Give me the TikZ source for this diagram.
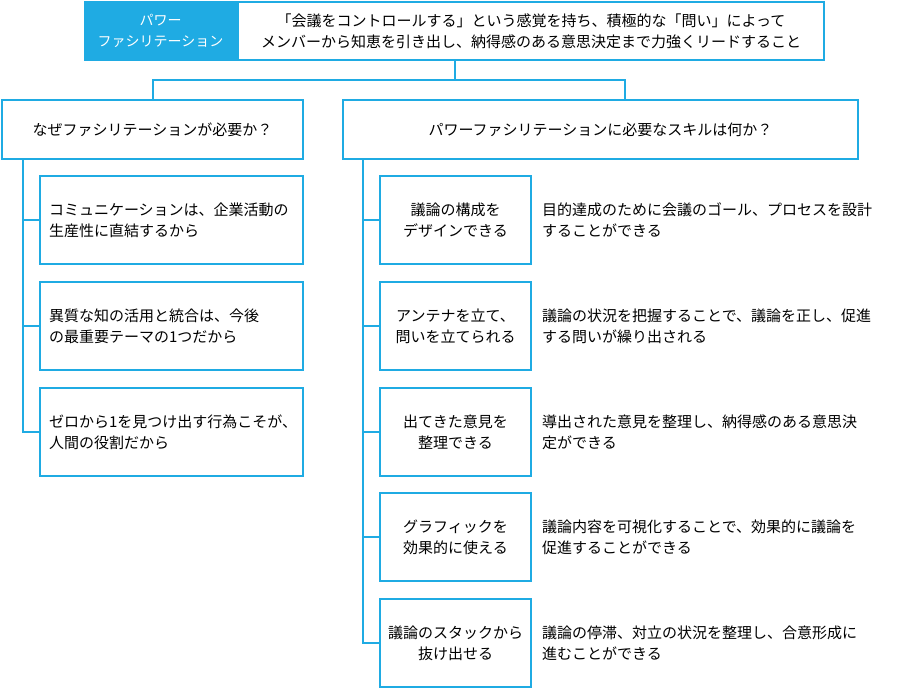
\documentclass[tikz,border=0pt]{standalone}
\usepackage{fontspec}
\setmainfont{Noto Sans CJK JP}
\usepackage{tikz}
\usetikzlibrary{calc,positioning}
\usepackage{xcolor}
\definecolor{pfblue}{RGB}{31,171,227}

\begin{document}
\begin{tikzpicture}[x=1pt,y=-1pt,
    box/.style={draw=pfblue,line width=2pt,fill=white,align=center,inner sep=0pt,
      font=\fontsize{15}{21}\selectfont},
    reason/.style={box,minimum width=263pt,minimum height=88pt,text width=245pt,align=left},
    conn/.style={draw=pfblue,line width=2pt},
    desc/.style={anchor=west,align=left,inner sep=0pt,font=\fontsize{15}{21}\selectfont}]
    \useasboundingbox (0,0) rectangle (913,690);
    % title row
    \node[fill=pfblue,text=white,align=center,inner sep=0pt,minimum width=153pt,minimum height=60pt,
      font=\fontsize{14}{21}\selectfont] (lbl) at (160.5,31) {パワー\\ファシリテーション};
    \node[box,minimum width=586pt,minimum height=58pt] (top) at (531,31)
      {「会議をコントロールする」という感覚を持ち、積極的な「問い」によって\\
       メンバーから知恵を引き出し、納得感のある意思決定まで力強くリードすること};
    % two questions
    \node[box,minimum width=301pt,minimum height=59pt] (why) at (152.5,129.5) {なぜファシリテーションが必要か？};
    \node[box,minimum width=515pt,minimum height=59pt] (skill) at (600.5,129.5) {パワーファシリテーションに必要なスキルは何か？};
    \coordinate (stem) at (455,61);
    \coordinate (fork) at (455,80);
    \coordinate (jL) at (153,80);
    \coordinate (jR) at (625,80);
    \draw[conn] (stem)--(fork);
    \draw[conn] (why.north)--(why.north |- jL)--(jR)--(jR |- skill.north);
    % reasons
    \node[reason] (w1) at (171.5,220) {コミュニケーションは、企業活動の\\生産性に直結するから};
    \node[reason] (w2) at (171.5,326) {異質な知の活用と統合は、今後\\の最重要テーマの1つだから};
    \node[reason] (w3) at (171.5,432) {ゼロから1を見つけ出す行為こそが、\\人間の役割だから};
    \coordinate (wt) at ($(why.south west)+(22,0)$);
    \foreach \i in {1,2,3}
      \draw[conn] (wt) |- (w\i.west);
    % skills
    \node[box,minimum width=151pt,minimum height=88pt] (s1) at (455.5,220) {議論の構成を\\デザインできる};
    \node[box,minimum width=151pt,minimum height=88pt] (s2) at (455.5,326) {アンテナを立て、\\問いを立てられる};
    \node[box,minimum width=151pt,minimum height=88pt] (s3) at (455.5,432) {出てきた意見を\\整理できる};
    \node[box,minimum width=151pt,minimum height=88pt] (s4) at (455.5,537) {グラフィックを\\効果的に使える};
    \node[box,minimum width=151pt,minimum height=88pt] (s5) at (455.5,643) {議論のスタックから\\抜け出せる};
    \coordinate (st) at ($(skill.south west)+(21,0)$);
    \foreach \i in {1,...,5}
      \draw[conn] (st) |- (s\i.west);
    \node[desc] (d1) at ($(s1.east)+(10,0)$) {目的達成のために会議のゴール、プロセスを設計\\することができる};
    \node[desc] (d2) at ($(s2.east)+(10,0)$) {議論の状況を把握することで、議論を正し、促進\\する問いが繰り出される};
    \node[desc] (d3) at ($(s3.east)+(10,0)$) {導出された意見を整理し、納得感のある意思決\\定ができる};
    \node[desc] (d4) at ($(s4.east)+(10,0)$) {議論内容を可視化することで、効果的に議論を\\促進することができる};
    \node[desc] (d5) at ($(s5.east)+(10,0)$) {議論の停滞、対立の状況を整理し、合意形成に\\進むことができる};
\end{tikzpicture}
\end{document}
